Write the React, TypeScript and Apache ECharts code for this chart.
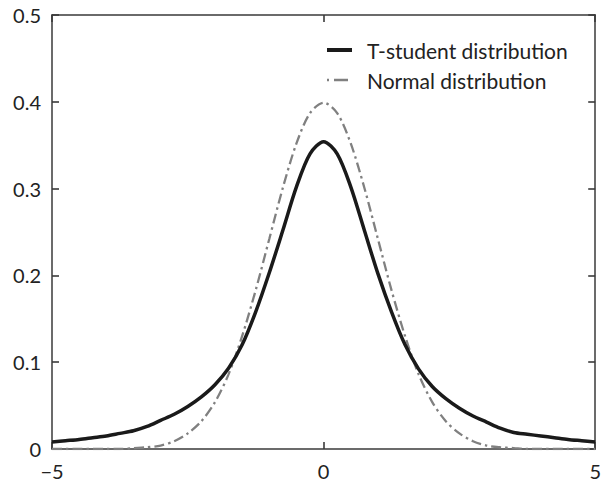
import React, { useEffect, useRef } from "react";
import * as echarts from "echarts";

const xPositions = [
  -5, -4.75, -4.5, -4.25, -4, -3.75, -3.5, -3.25, -3, -2.75, -2.5, -2.25, -2, -1.75, -1.5, -1.25, -1, -0.75, -0.5, -0.25,
  0, 0.25, 0.5, 0.75, 1, 1.25, 1.5, 1.75, 2, 2.25, 2.5, 2.75, 3, 3.25, 3.5, 3.75, 4, 4.25, 4.5, 4.75, 5,
];

const tStudentValues = [
  0.008, 0.0095, 0.011, 0.013, 0.015, 0.018, 0.021, 0.026, 0.033, 0.040, 0.049, 0.060, 0.074, 0.093, 0.120, 0.158, 0.203, 0.252, 0.302, 0.340,
  0.354, 0.340, 0.302, 0.252, 0.202, 0.158, 0.120, 0.092, 0.072, 0.058, 0.047, 0.038, 0.031, 0.024, 0.019, 0.017, 0.015, 0.013, 0.011, 0.0095, 0.008,
];

const normalValues = [
  0, 0, 0, 0, 0, 0, 0.001, 0.002, 0.004, 0.009, 0.018, 0.032, 0.054, 0.086, 0.130, 0.183, 0.242, 0.301, 0.352, 0.387,
  0.399, 0.387, 0.352, 0.301, 0.242, 0.183, 0.130, 0.086, 0.054, 0.032, 0.018, 0.009, 0.004, 0.002, 0.001, 0, 0, 0, 0, 0, 0,
];

const seriesNames = ["T-student distribution", "Normal distribution"];

const FONT = "Lato, 'DejaVu Sans', sans-serif";
const AXIS_COLOR = "#3a3a3a";
const T_COLOR = "#1a1a1a";
const N_COLOR = "#808080";
const N_DASH = [10, 4, 2.5, 4];

export default function App() {
  const ref = useRef<HTMLDivElement>(null);

  useEffect(() => {
    if (!ref.current) return;
    const chart = echarts.init(ref.current, undefined, { renderer: "svg" });

    const makeLine = () => ({ show: true, onZero: false, lineStyle: { color: AXIS_COLOR, width: 1.5 } });
    const makeTick = () => ({ show: true, inside: true, length: 7, lineStyle: { color: AXIS_COLOR, width: 1.6 } });

    const xLabel = (v: number) => (v < 0 ? "\u2212" + Math.abs(v) : String(v));
    const yLabel = (v: number) => (v === 0 ? "0" : v.toFixed(1));

    chart.setOption({
      animation: false,
      backgroundColor: "#ffffff",
      grid: { left: 52, right: 5, top: 15, bottom: 34, containLabel: false },
      legend: {
        show: true,
        orient: "vertical",
        left: 327,
        top: 40,
        padding: 0,
        itemGap: 9,
        itemWidth: 25,
        itemHeight: 14,
        icon: "rect",
        itemStyle: { opacity: 0 },
        textStyle: { fontFamily: FONT, fontSize: 21, color: "#222222", lineHeight: 21, padding: [0, 0, 0, 10] },
        data: seriesNames,
      },
      graphic: [
        {
          type: "line",
          shape: { x1: 327, y1: 50, x2: 352, y2: 50 },
          style: { stroke: T_COLOR, lineWidth: 4 },
          silent: true,
        },
        {
          type: "line",
          shape: { x1: 327, y1: 80, x2: 352, y2: 80 },
          style: { stroke: N_COLOR, lineWidth: 2.5, lineDash: [2, 5, 14, 4] },
          silent: true,
        },
      ],
      xAxis: [
        {
          type: "value",
          min: -5,
          max: 5,
          interval: 5,
          position: "bottom",
          axisLine: makeLine(),
          axisTick: makeTick(),
          splitLine: { show: false },
          axisLabel: { show: true, margin: 12, fontFamily: FONT, fontSize: 20, color: "#222222", formatter: xLabel },
        },
        {
          type: "value",
          min: -5,
          max: 5,
          interval: 5,
          position: "top",
          axisLine: makeLine(),
          axisTick: makeTick(),
          splitLine: { show: false },
          axisLabel: { show: false },
        },
      ],
      yAxis: [
        {
          type: "value",
          min: 0,
          max: 0.5,
          interval: 0.1,
          position: "left",
          axisLine: makeLine(),
          axisTick: makeTick(),
          splitLine: { show: false },
          axisLabel: { show: true, margin: 11, fontFamily: FONT, fontSize: 20, color: "#222222", formatter: yLabel },
        },
        {
          type: "value",
          min: 0,
          max: 0.5,
          interval: 0.1,
          position: "right",
          axisLine: makeLine(),
          axisTick: makeTick(),
          splitLine: { show: false },
          axisLabel: { show: false },
        },
      ],
      series: [
        {
          name: seriesNames[0],
          type: "line",
          xAxisIndex: 0,
          yAxisIndex: 0,
          data: xPositions.map((x, i) => [x, tStudentValues[i]]),
          showSymbol: false,
          symbol: "none",
          smooth: 0.3,
          lineStyle: { color: T_COLOR, width: 3.5 },
          itemStyle: { color: T_COLOR },
          z: 3,
        },
        {
          name: seriesNames[1],
          type: "line",
          xAxisIndex: 0,
          yAxisIndex: 0,
          data: xPositions.map((x, i) => [x, normalValues[i]]),
          showSymbol: false,
          symbol: "none",
          smooth: 0.3,
          lineStyle: { color: N_COLOR, width: 2.3, type: N_DASH },
          itemStyle: { color: N_COLOR },
          z: 2,
        },
      ],
    });

    return () => chart.dispose();
  }, []);

  return (
    <div
      ref={ref}
      style={{ position: "fixed", left: 0, top: 0, width: 604, height: 483 }}
    />
  );
}
